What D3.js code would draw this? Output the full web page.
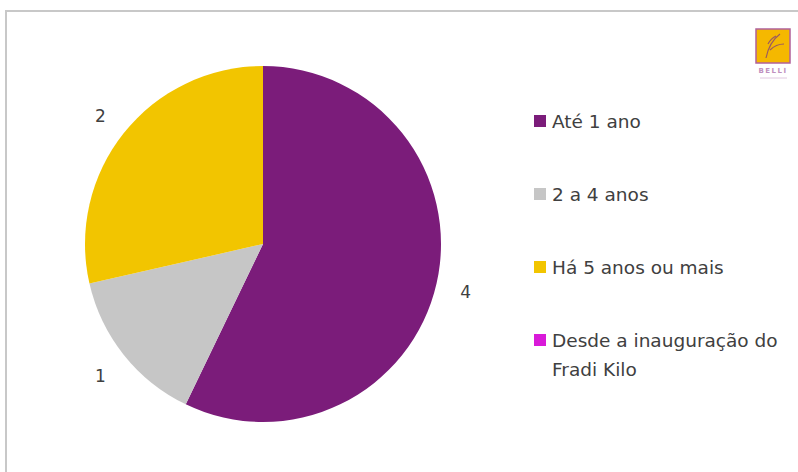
<!DOCTYPE html>
<html><head><meta charset="utf-8">
<script src="https://cdn.jsdelivr.net/npm/d3@7"></script>
<style>html,body{margin:0;padding:0;background:#fff;}svg{display:block;}</style>
</head><body>
<svg id="c" width="798" height="472"></svg>
<script>
const categories = ["Até 1 ano", "2 a 4 anos", "Há 5 anos ou mais", "Desde a inauguração do Fradi Kilo"];
const values = [4, 1, 2, 0];
const colors = ["#7b1c7a", "#c6c6c6", "#f2c500", "#d91ad9"];
const legendLines = [["Até 1 ano"], ["2 a 4 anos"], ["Há 5 anos ou mais"], ["Desde a inauguração do", "Fradi Kilo"]];

const svg = d3.select("#c");
const font = "'DejaVu Sans', sans-serif";

// frame
svg.append("rect").attr("x", 6).attr("y", 11).attr("width", 800).attr("height", 470)
  .attr("fill", "#fff").attr("stroke", "#c8c8c8").attr("stroke-width", 2);

const cx = 263, cy = 244, r = 178;
const pie = d3.pie().sort(null).value(d => d)(values);
const arc = d3.arc().innerRadius(0).outerRadius(r);
const g = svg.append("g").attr("transform", `translate(${cx},${cy})`);
g.selectAll("path").data(pie).join("path")
  .attr("d", arc).attr("fill", (d, i) => colors[i]);

const labelArc = d3.arc().innerRadius(r + 30).outerRadius(r + 30);
g.selectAll("text.lbl").data(pie.filter(d => d.value > 0)).join("text")
  .attr("class", "lbl")
  .attr("x", d => labelArc.centroid(d)[0])
  .attr("y", d => labelArc.centroid(d)[1] + 2)
  .attr("text-anchor", "middle").attr("dominant-baseline", "central")
  .attr("font-family", font).attr("font-size", 17).attr("fill", "#404040")
  .text(d => d.value);

// legend
const ly = d3.scalePoint().domain(categories).range([121, 340]);
const lg = svg.append("g");
categories.forEach((c, i) => {
  const y = ly(c);
  lg.append("rect").attr("x", 534).attr("y", y - 6).attr("width", 12).attr("height", 12).attr("fill", colors[i]);
  legendLines[i].forEach((t, j) => {
    lg.append("text").attr("x", 552).attr("y", y + j * 29).attr("dominant-baseline", "central")
      .attr("font-family", font).attr("font-size", 18.5).attr("fill", "#404040").text(t);
  });
});

// logo
const logo = svg.append("g");
logo.append("rect").attr("x", 756).attr("y", 29).attr("width", 34).attr("height", 34)
  .attr("fill", "#f5b800").attr("stroke", "#b0609a").attr("stroke-width", 1.5);
logo.append("path").attr("d", "M766,58 C768,48 772,40 780,34 M770,50 C774,46 778,44 784,44 M768,44 C770,40 772,38 776,36")
  .attr("fill", "none").attr("stroke", "#9a5a60").attr("stroke-width", 1.2);
logo.append("text").attr("x", 773).attr("y", 73).attr("text-anchor", "middle")
  .attr("font-family", font).attr("font-size", 7).attr("font-weight", "bold").attr("letter-spacing", 1.5)
  .attr("fill", "#c090c0").text("BELLI");
logo.append("line").attr("x1", 760).attr("x2", 787).attr("y1", 78).attr("y2", 78)
  .attr("stroke", "#e0c8e0").attr("stroke-width", 1);
</script>
</body></html>
